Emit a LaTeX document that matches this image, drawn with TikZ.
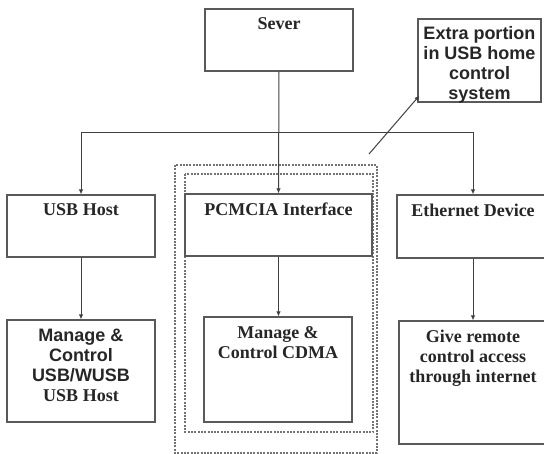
\documentclass[tikz,border=0pt]{standalone}
\usepackage{fontspec}
\setmainfont{Liberation Serif}
\newfontfamily\arialfont{Liberation Sans}
\usetikzlibrary{arrows.meta}
\begin{document}
\begin{tikzpicture}[x=1pt,y=-1pt,
  box/.style={draw=black!65, line width=1.2pt, rectangle, inner sep=0pt},
  lbl/.style={anchor=north, inner sep=0pt, align=center,
    font=\fontsize{18}{20}\selectfont\bfseries, text=black!85},
  conn/.style={draw=black!75, line width=1pt},
  arr/.style={conn, -{Latex[length=5pt,width=4.5pt]}},
  frame/.style={draw=black!55, line width=1.2pt, dash pattern=on 2pt off 1.3pt}]
\useasboundingbox (0,0) rectangle (544,454);
\clip (0,0) rectangle (544,454);

% outer and inner dashed frames round the PCMCIA branch
\draw[frame] (175,165) rectangle (377,453);
\draw[frame] (185,174) rectangle (373,432);

% boxes
\node[box, minimum width=148pt, minimum height=62pt]  (sever)   at (279,40)    {};
\node[box, minimum width=123pt, minimum height=83pt]  (extra)   at (479.5,60.5) {};
\node[box, minimum width=148pt, minimum height=62pt]  (usbhost) at (81,226)    {};
\node[box, minimum width=148pt, minimum height=102pt] (manage)  at (81,371)    {};
\node[box, minimum width=187pt, minimum height=62pt]  (pcmcia)  at (278.5,225) {};
\node[box, minimum width=148pt, minimum height=105pt] (cdma)    at (278,369.5) {};
\node[box, minimum width=152pt, minimum height=63pt]  (eth)     at (473,226.5) {};
\node[box, minimum width=148pt, minimum height=123pt] (remote)  at (473,382.5) {};

% texts
\node[lbl] (severtxt)   at ([yshift=-9pt]sever.north)   {Sever};
\node[lbl] (extratxt)   at ([yshift=-8pt]extra.north)
  {\arialfont Extra portion\\\arialfont in USB home\\\arialfont control\\\arialfont system};
\node[lbl] (usbhosttxt) at ([yshift=-9pt]usbhost.north) {USB Host};
\node[lbl] (managetxt)  at ([yshift=-9pt]manage.north)
  {\arialfont Manage \&\\\arialfont Control\\\arialfont USB/WUSB\\USB Host};
\node[lbl] (pcmciatxt)  at ([yshift=-9pt]pcmcia.north)  {PCMCIA Interface};
\node[lbl] (cdmatxt)    at ([yshift=-10pt]cdma.north)   {Manage \&\\Control CDMA};
\node[lbl] (ethtxt)     at ([yshift=-9pt]eth.north)     {Ethernet Device};
\node[lbl] (remotetxt)  at ([yshift=-9pt]remote.north)
  {Give remote\\control access\\through internet};

% connectors
\coordinate (bus) at (sever.south |- 0,133);
\draw[arr] (sever.south) -- (pcmcia.north);
\draw[arr] (bus) -| (usbhost.north);
\draw[arr] (bus) -| (eth.north);
\draw[arr] (usbhost.south) -- (manage.north);
\draw[arr] (pcmcia.south) -- (pcmcia.south |- cdma.north);
\draw[arr] (eth.south) -- (remote.north);
\coordinate (tail) at (369,154);
\draw[arr] (tail) -- ([xshift=2pt,yshift=7pt]extra.south west);
\end{tikzpicture}
\end{document}
